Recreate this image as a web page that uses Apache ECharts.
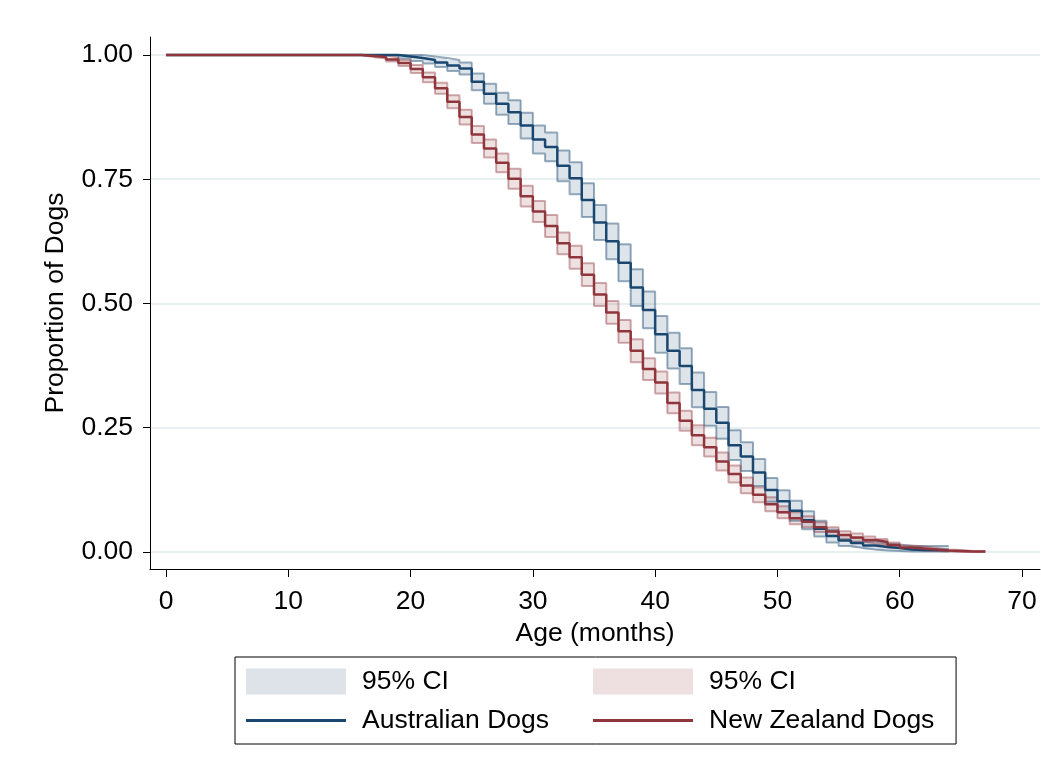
<!DOCTYPE html>
<html>
<head>
<meta charset="utf-8">
<script src="https://cdn.jsdelivr.net/npm/echarts@6/dist/echarts.min.js"></script>
<style>
html,body{margin:0;padding:0;background:#fff;}
#chart{width:1041px;height:766px;}
</style>
</head>
<body>
<div id="chart"></div>
<script>
// ---- data ----
const auMonths = [0,1,2,3,4,5,6,7,8,9,10,11,12,13,14,15,16,17,18,19,20,21,22,23,24,25,26,27,28,29,30,31,32,33,34,35,36,37,38,39,40,41,42,43,44,45,46,47,48,49,50,51,52,53,54,55,56,57,58,59,60,61,62,63,64];
const auSurv = [1,1,1,1,1,1,1,1,1,1,1,1,1,1,1,1,1,1,1,
  0.997,0.994,0.990,0.985,0.979,0.973,0.946,0.922,0.902,0.885,0.858,0.830,0.815,0.777,0.752,0.708,0.663,0.625,0.582,0.532,0.487,0.438,0.405,0.374,0.326,0.288,0.260,0.215,0.192,0.160,0.125,0.102,0.083,0.064,0.047,0.032,0.023,0.018,0.013,0.010,0.008,0.005,0.004,0.004,0.004,0.004];
const auLower = [1,1,1,1,1,1,1,1,1,1,1,1,1,1,1,1,1,1,1,
  0.993,0.988,0.983,0.976,0.968,0.961,0.929,0.902,0.880,0.861,0.832,0.802,0.786,0.746,0.720,0.674,0.628,0.589,0.545,0.495,0.450,0.401,0.369,0.338,0.291,0.254,0.228,0.185,0.163,0.133,0.101,0.080,0.063,0.046,0.031,0.019,0.012,0.008,0.005,0.003,0.002,0.001,0.001,0.001,0.001,0.001];
const auUpper = [1,1,1,1,1,1,1,1,1,1,1,1,1,1,1,1,1,1,1,
  1.000,1.000,0.997,0.994,0.990,0.985,0.963,0.942,0.924,0.909,0.884,0.858,0.844,0.808,0.784,0.742,0.698,0.661,0.619,0.569,0.524,0.475,0.441,0.410,0.361,0.322,0.292,0.245,0.221,0.187,0.149,0.124,0.103,0.082,0.063,0.045,0.034,0.028,0.021,0.017,0.015,0.012,0.012,0.012,0.012,0.012];

const nzMonths = [0,1,2,3,4,5,6,7,8,9,10,11,12,13,14,15,16,17,18,19,20,21,22,23,24,25,26,27,28,29,30,31,32,33,34,35,36,37,38,39,40,41,42,43,44,45,46,47,48,49,50,51,52,53,54,55,56,57,58,59,60,61,62,63,64,65,66,67];
const nzSurv = [1,1,1,1,1,1,1,1,1,1,1,1,1,1,1,1,
  0.998,0.996,0.991,0.984,0.972,0.955,0.933,0.906,0.875,0.840,0.812,0.783,0.751,0.716,0.685,0.656,0.621,0.593,0.558,0.518,0.482,0.444,0.405,0.368,0.341,0.300,0.264,0.235,0.211,0.182,0.157,0.134,0.115,0.096,0.080,0.068,0.061,0.050,0.041,0.034,0.029,0.024,0.020,0.014,0.009,0.007,0.005,0.003,0.002,0.001,0.001,0.001];
const nzLower = [1,1,1,1,1,1,1,1,1,1,1,1,1,1,1,1,
  0.996,0.993,0.987,0.978,0.964,0.945,0.922,0.893,0.860,0.823,0.794,0.764,0.731,0.695,0.664,0.634,0.599,0.570,0.535,0.495,0.459,0.421,0.382,0.346,0.319,0.279,0.244,0.215,0.192,0.164,0.140,0.118,0.100,0.082,0.068,0.056,0.050,0.040,0.032,0.026,0.021,0.017,0.014,0.009,0.005,0.003,0.002,0.001,0.000,0.000,0.000,0.000];
const nzUpper = [1,1,1,1,1,1,1,1,1,1,1,1,1,1,1,1,
  1.000,0.999,0.995,0.990,0.980,0.965,0.944,0.919,0.890,0.857,0.830,0.802,0.771,0.737,0.706,0.678,0.643,0.616,0.581,0.541,0.505,0.467,0.428,0.390,0.363,0.321,0.284,0.255,0.230,0.200,0.174,0.150,0.130,0.110,0.092,0.080,0.072,0.060,0.050,0.042,0.037,0.031,0.026,0.019,0.013,0.011,0.008,0.005,0.004,0.002,0.002,0.002];

const xTicks = [0,10,20,30,40,50,60,70];
const yTicks = [0,0.25,0.5,0.75,1];
const legendLeft = ['95% CI (AU)', 'Australian Dogs'];
const legendRight = ['95% CI (NZ)', 'New Zealand Dogs'];

// ---- build ----
const pairs = (xs, ys) => xs.map((x, i) => [x, ys[i]]);
// each band cell: [month, lower, upper, next month]
const cells = (xs, lo, hi) => xs.map((x, i) => [x, lo[i], hi[i], i < xs.length - 1 ? xs[i + 1] : x]);

const FONT = "'Liberation Sans', Arial, Helvetica, sans-serif";
const FS = 26.5;
const NAVY = '#1a476f', MAROON = '#90353b';
const navyOutline = 'rgba(26,71,111,0.45)', navyFill = 'rgba(26,71,111,0.15)';
const marOutline = 'rgba(144,53,59,0.42)', marFill = 'rgba(144,53,59,0.15)';
const legendIcons = {
  '95% CI (AU)': {icon: 'rect', itemStyle: {color: '#dee3ea', borderWidth: 0}},
  '95% CI (NZ)': {icon: 'rect', itemStyle: {color: '#eee0e1', borderWidth: 0}},
  'Australian Dogs': {icon: 'path://M0,0h100v3h-100z', itemStyle: {color: NAVY, borderWidth: 0}},
  'New Zealand Dogs': {icon: 'path://M0,0h100v3h-100z', itemStyle: {color: MAROON, borderWidth: 0}}
};

function bandRenderer(fill) {
  return function (params, api) {
    const p0 = api.coord([api.value(0), api.value(2)]);
    const p1 = api.coord([api.value(3), api.value(1)]);
    const l = Math.round(p0[0]), r = Math.round(p1[0]);
    return {
      type: 'rect',
      shape: {x: l, y: p0[1], width: r - l, height: p1[1] - p0[1]},
      style: {fill: fill}
    };
  };
}

function makeLegend(names, left, withBox) {
  return {
    left: left, top: 657, orient: 'vertical',
    padding: withBox ? [11, 407, 10, 11] : [11, 11, 10, 11],
    itemGap: 12, itemWidth: 100, itemHeight: 26,
    borderColor: withBox ? '#000' : 'transparent', borderWidth: withBox ? 1 : 0, borderRadius: 0,
    backgroundColor: withBox ? '#fff' : 'transparent',
    selectedMode: false,
    formatter: n => '{t|' + (n.indexOf('95% CI') === 0 ? '95% CI' : n) + '}',
    textStyle: {fontSize: FS, color: '#000', fontFamily: FONT,
      rich: {t: {fontSize: FS, color: '#000', fontFamily: FONT, padding: [0, 0, 0, 11]}}},
    data: names.map(n => Object.assign({name: n}, legendIcons[n]))
  };
}

const chart = echarts.init(document.getElementById('chart'), null, {renderer: 'canvas'});
chart.setOption({
  animation: false,
  backgroundColor: '#fff',
  textStyle: {fontFamily: FONT},
  grid: {left: 150, right: 1, top: 37, bottom: 197, containLabel: false},
  xAxis: {
    type: 'value', min: -1.308, max: 71.47,
    name: 'Age (months)', nameLocation: 'middle', nameGap: 43,
    nameTextStyle: {fontSize: FS, color: '#000', fontFamily: FONT},
    axisLine: {show: true, onZero: false, lineStyle: {color: '#000', width: 1}},
    axisTick: {show: true, length: 8, customValues: xTicks, lineStyle: {color: '#000', width: 1}},
    axisLabel: {customValues: xTicks, fontSize: FS, color: '#000', margin: 19, fontFamily: FONT},
    splitLine: {show: false}
  },
  yAxis: {
    type: 'value', min: -0.0342, max: 1.0362,
    name: 'Proportion of Dogs', nameLocation: 'middle', nameGap: 81, nameRotate: 90,
    nameTextStyle: {fontSize: FS, color: '#000', fontFamily: FONT},
    axisLine: {show: true, onZero: false, lineStyle: {color: '#000', width: 1}},
    axisTick: {show: true, length: 7, customValues: yTicks, lineStyle: {color: '#000', width: 1}},
    axisLabel: {customValues: yTicks, fontSize: FS, color: '#000', margin: 17, fontFamily: FONT,
      formatter: v => Number(v).toFixed(2)},
    splitLine: {show: true, lineStyle: {color: '#e8eff1', width: 2}}
  },
  legend: [makeLegend(legendLeft, 235, true), makeLegend(legendRight, 582, false)],
  series: [
    {name: '95% CI (AU)', type: 'custom', silent: true, clip: true, z: 1,
     data: cells(auMonths, auLower, auUpper), encode: {x: [0, 3], y: [1, 2]},
     itemStyle: {color: navyFill}, renderItem: bandRenderer(navyFill)},
    {name: '95% CI (NZ)', type: 'custom', silent: true, clip: true, z: 1,
     data: cells(nzMonths, nzLower, nzUpper), encode: {x: [0, 3], y: [1, 2]},
     itemStyle: {color: marFill}, renderItem: bandRenderer(marFill)},
    {name: 'auLo', type: 'line', step: 'end', symbol: 'none', silent: true, z: 2,
     data: pairs(auMonths, auLower), lineStyle: {color: navyOutline, width: 2}},
    {name: 'auHi', type: 'line', step: 'end', symbol: 'none', silent: true, z: 2,
     data: pairs(auMonths, auUpper), lineStyle: {color: navyOutline, width: 2}},
    {name: 'nzLo', type: 'line', step: 'end', symbol: 'none', silent: true, z: 2,
     data: pairs(nzMonths, nzLower), lineStyle: {color: marOutline, width: 2}},
    {name: 'nzHi', type: 'line', step: 'end', symbol: 'none', silent: true, z: 2,
     data: pairs(nzMonths, nzUpper), lineStyle: {color: marOutline, width: 2}},
    {name: 'Australian Dogs', type: 'line', step: 'end', symbol: 'none', silent: true, z: 3,
     data: pairs(auMonths, auSurv), lineStyle: {color: NAVY, width: 2.5}, itemStyle: {color: NAVY}},
    {name: 'New Zealand Dogs', type: 'line', step: 'end', symbol: 'none', silent: true, z: 3,
     data: pairs(nzMonths, nzSurv), lineStyle: {color: MAROON, width: 2.5}, itemStyle: {color: MAROON}}
  ]
});
</script>
</body>
</html>
